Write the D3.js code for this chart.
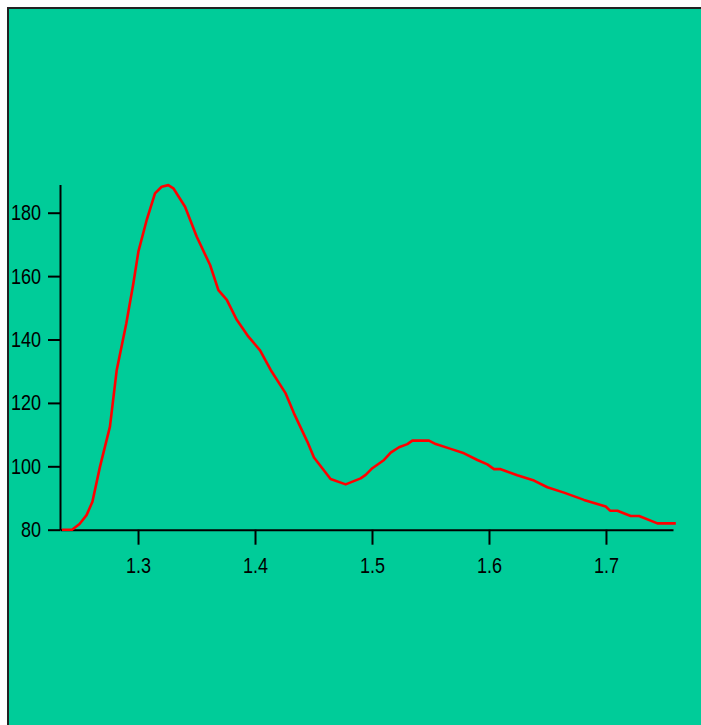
<!DOCTYPE html>
<html lang="en">
<head>
  <meta charset="UTF-8">
  <title>Curve</title>
  <script src="https://d3js.org/d3.v7.min.js"></script>
  <style>
    body {
      margin: 0;
      background: #fff;
    }
    svg {
      display: block;
    }
    .axis path, .axis line {
      stroke: #000;
      stroke-width: 2px;
    }
    .axis text {
      font-family: "Liberation Sans", Arial, sans-serif;
      font-size: 22px;
      fill: #000;
    }
  </style>
</head>
<body>
  <svg width="701" height="725"></svg>

  <script>
    // values
    const xValues = [
      1.235, 1.2436, 1.250, 1.256, 1.261, 1.2675, 1.276, 1.2818, 1.290, 1.296,
      1.3003, 1.3074, 1.3145, 1.3202, 1.3259, 1.3302, 1.3402, 1.3502, 1.3616, 1.3687,
      1.3759, 1.3844, 1.3944, 1.4043, 1.4134, 1.4262, 1.4333, 1.4447, 1.4504, 1.4575,
      1.4646, 1.4775, 1.4903, 1.4946, 1.5003, 1.5103, 1.516, 1.5231, 1.5302, 1.5345,
      1.5487, 1.5545, 1.5673, 1.5787, 1.5901, 1.5986, 1.6043, 1.610, 1.6242, 1.6385,
      1.6499, 1.6641, 1.6812, 1.6998, 1.7035, 1.7098, 1.7211, 1.7283, 1.744, 1.7597
    ];
    const yValues = [
      80, 80, 81.8, 84.6, 88.8, 99.9, 112.5, 130.4, 145.1, 157.7,
      167.7, 177.7, 186.1, 188.2, 188.7, 187.7, 181.9, 172.4, 163.5, 155.6,
      152.5, 146.2, 140.9, 136.6, 130.4, 123, 116.7, 107.8, 102.8, 99.4,
      96, 94.3, 96.2, 97.3, 99.4, 102, 104.3, 106, 107, 108.1,
      108.1, 107, 105.5, 104.1, 102, 100.6, 99.1, 99.1, 97.2, 95.5,
      93.4, 91.7, 89.4, 87.3, 86, 86, 84.3, 84.3, 82, 82
    ];
    const xTicks = [1.3, 1.4, 1.5, 1.6, 1.7];
    const yTicks = [80, 100, 120, 140, 160, 180];

    const data = xValues.map((x, i) => ({ x: x, y: yValues[i] }));

    const svg = d3.select("svg");

    // background panel with left/top frame
    svg.append("rect")
      .attr("x", 8)
      .attr("y", 8)
      .attr("width", 720)
      .attr("height", 740)
      .attr("fill", "#00cc99")
      .attr("stroke", "#222")
      .attr("stroke-width", 2);

    const xScale = d3.scaleLinear()
      .domain([1.2333, 1.7573])
      .range([60, 673]);

    const yScale = d3.scaleLinear()
      .domain([80, 188.9])
      .range([529.7, 184.5]);

    // squeeze label glyphs to look like the narrow face in the original
    function narrow(g) {
      g.selectAll("text").each(function() {
        const t = d3.select(this);
        const x = +t.attr("x") || 0;
        const y = +t.attr("y") || 0;
        t.attr("x", 0).attr("y", 0)
          .attr("transform", `translate(${x},${y}) scale(0.82,1)`);
      });
    }

    // x axis
    svg.append("g")
      .attr("class", "axis")
      .attr("transform", "translate(0,529.7)")
      .call(d3.axisBottom(xScale)
        .tickValues(xTicks)
        .tickFormat(d3.format(".1f"))
        .tickSize(15)
        .tickSizeOuter(0)
        .tickPadding(13))
      .call(narrow);

    // y axis
    svg.append("g")
      .attr("class", "axis")
      .attr("transform", "translate(60,0)")
      .call(d3.axisLeft(yScale)
        .tickValues(yTicks)
        .tickSize(12)
        .tickSizeOuter(0)
        .tickPadding(7))
      .call(narrow);

    // curve
    const line = d3.line()
      .x(d => xScale(d.x))
      .y(d => yScale(d.y));

    svg.append("path")
      .datum(data)
      .attr("fill", "none")
      .attr("stroke", "#ff0000")
      .attr("stroke-width", 2.6)
      .attr("stroke-linejoin", "round")
      .attr("d", line);
  </script>
</body>
</html>
